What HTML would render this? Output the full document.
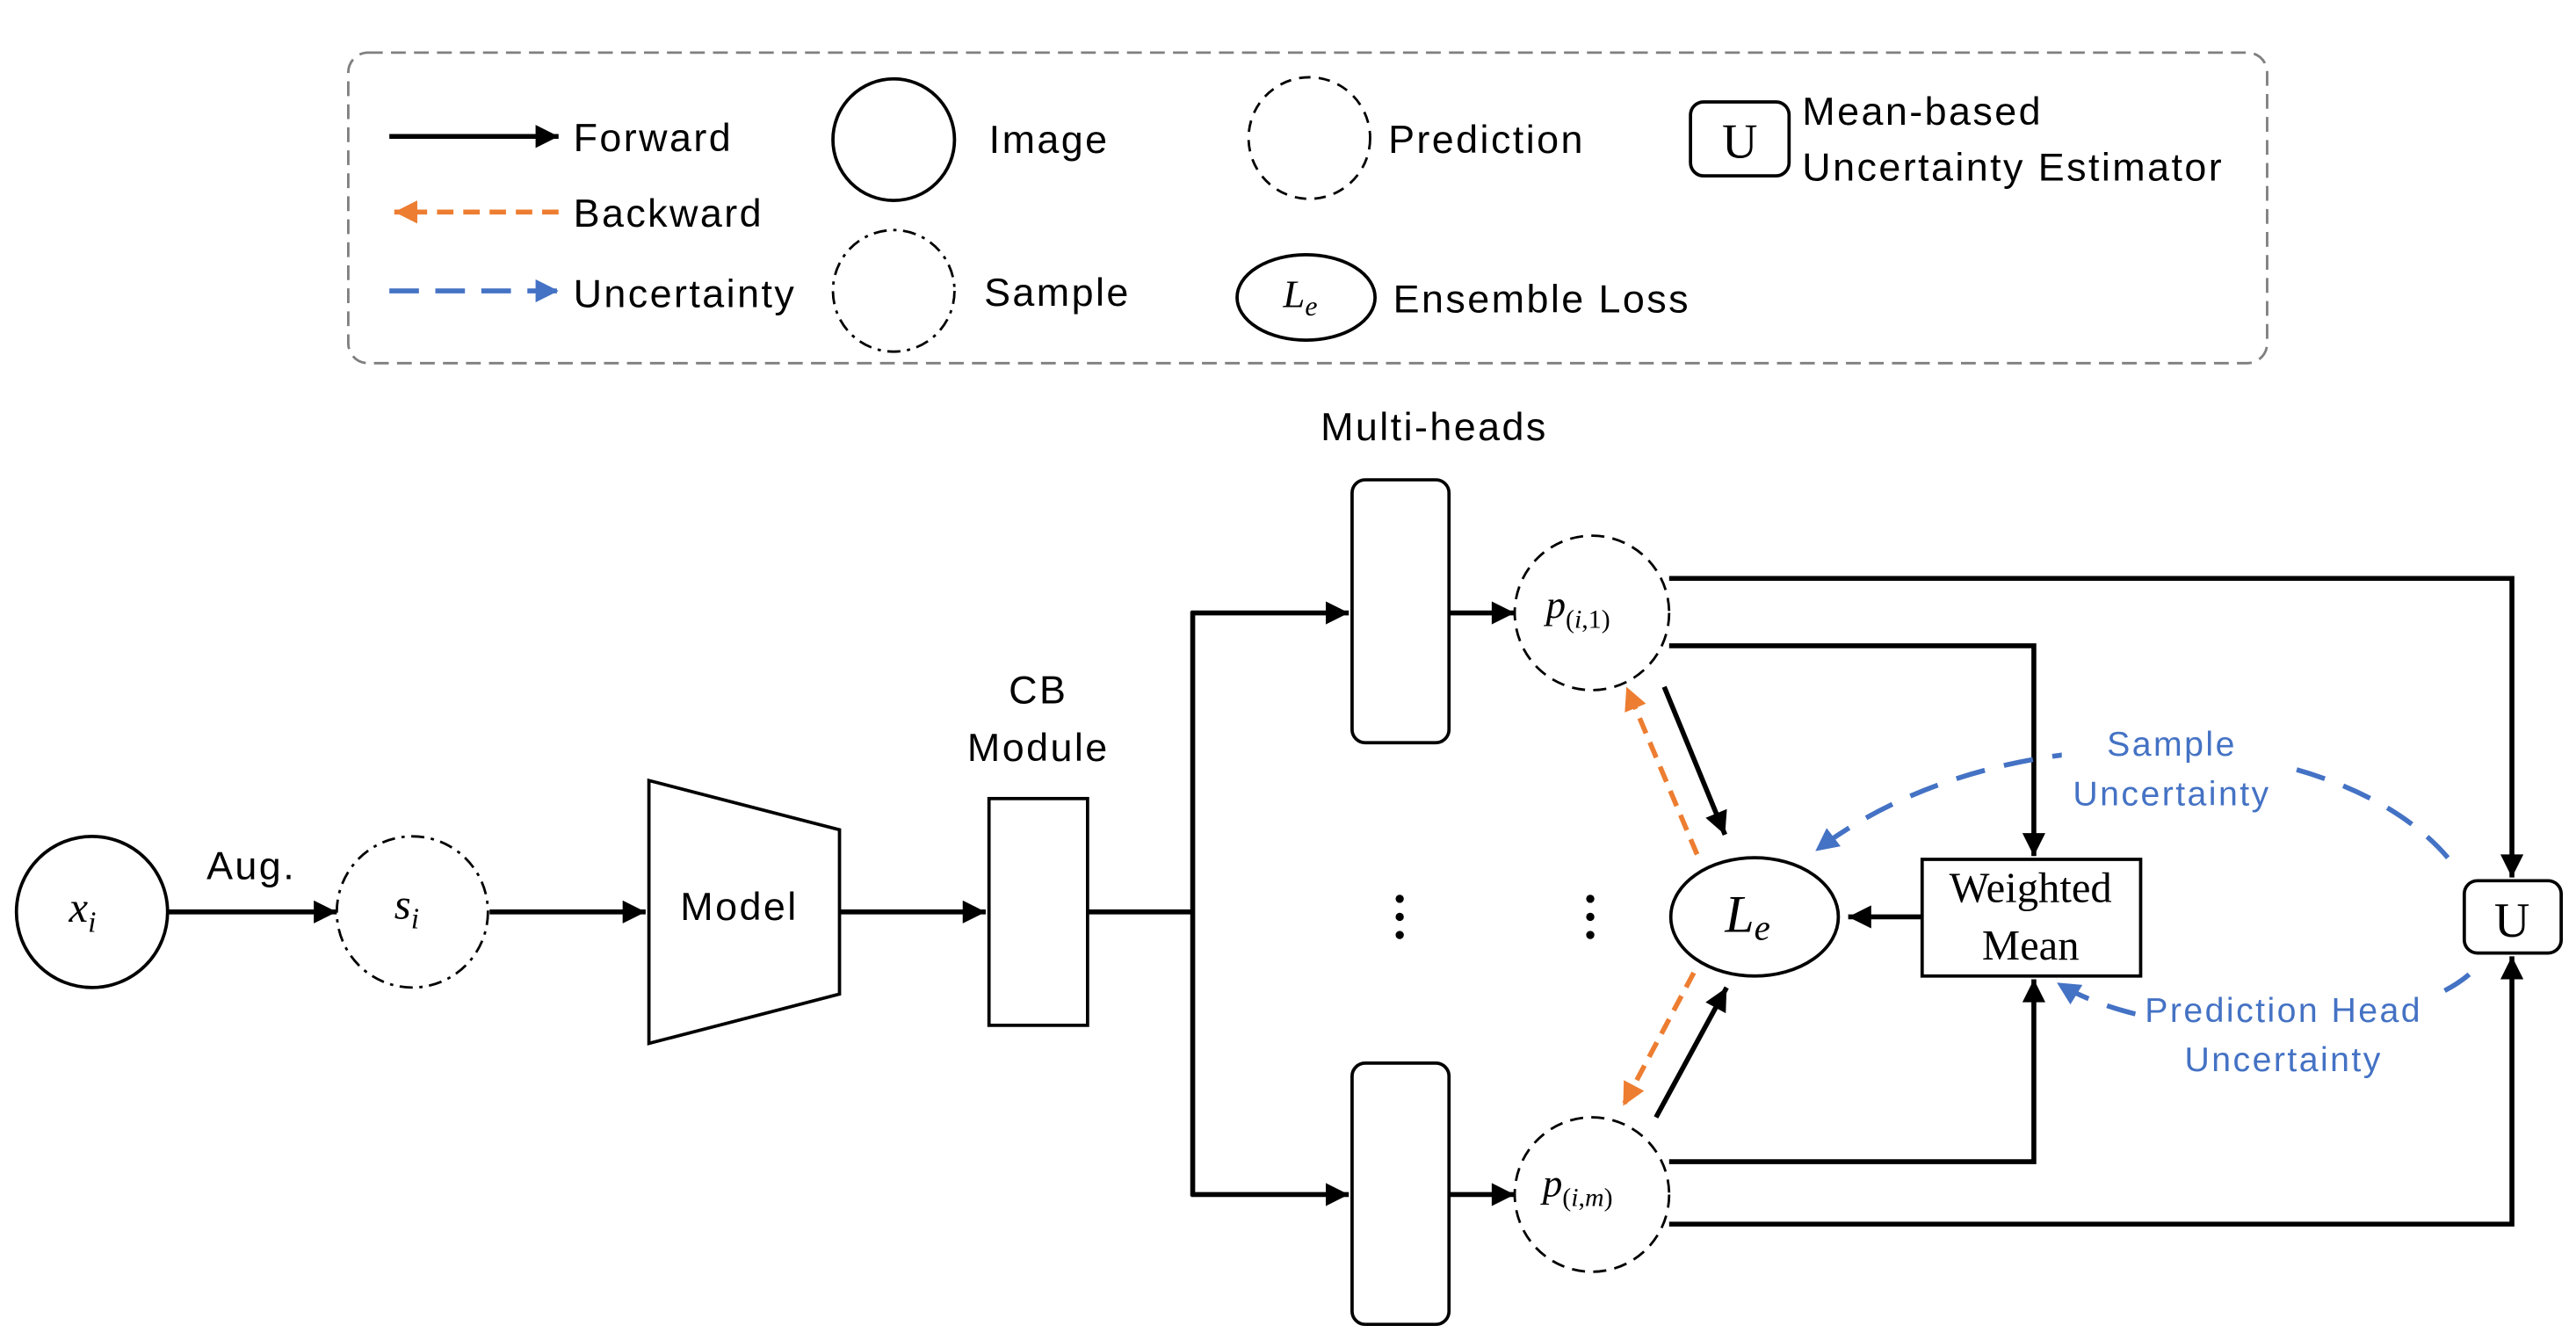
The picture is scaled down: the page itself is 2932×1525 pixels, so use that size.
<!DOCTYPE html>
<html><head><meta charset="utf-8"><style>
html,body{margin:0;padding:0;background:#fff;}
svg{display:block;}
.s{font-family:"Liberation Sans",sans-serif;font-size:24px;letter-spacing:1.3px;fill:#000;}
.b{font-family:"Liberation Sans",sans-serif;font-size:21px;letter-spacing:1.3px;fill:#4472c4;}
.m{font-family:"Liberation Serif",serif;font-style:italic;fill:#000;}
.r{font-family:"Liberation Serif",serif;fill:#000;}
</style></head><body>
<svg width="2932" height="1525" viewBox="0 0 1568 815.5" xmlns="http://www.w3.org/2000/svg">
<defs>
<marker id="A" viewBox="0 0 10 10" refX="10" refY="5" markerWidth="16" markerHeight="14" orient="auto" markerUnits="userSpaceOnUse"><path d="M0,0 L10,5 L0,10z" fill="#000"/></marker>
<marker id="O" viewBox="0 0 10 10" refX="10" refY="5" markerWidth="16" markerHeight="14" orient="auto" markerUnits="userSpaceOnUse"><path d="M0,0 L10,5 L0,10z" fill="#ed7d31"/></marker>
<marker id="B" viewBox="0 0 10 10" refX="10" refY="5" markerWidth="16" markerHeight="14" orient="auto" markerUnits="userSpaceOnUse"><path d="M0,0 L10,5 L0,10z" fill="#4472c4"/></marker>
</defs>
<rect x="212" y="32" width="1168" height="189" rx="12" fill="none" stroke="#7f7f7f" stroke-width="1.5" stroke-dasharray="9,5"/>
<line x1="237" y1="83" x2="340" y2="83" stroke="#000" stroke-width="3" marker-end="url(#A)"/>
<text class="s" x="349" y="92">Forward</text>
<line x1="340" y1="129" x2="240" y2="129" stroke="#ed7d31" stroke-width="3" stroke-dasharray="10,6" marker-end="url(#O)"/>
<text class="s" x="349" y="138">Backward</text>
<line x1="237" y1="177" x2="340" y2="177" stroke="#4472c4" stroke-width="3" stroke-dasharray="18,10" marker-end="url(#B)"/>
<text class="s" x="349" y="187">Uncertainty</text>
<circle cx="544" cy="85" r="37" fill="none" stroke="#000" stroke-width="2"/>
<text class="s" x="602" y="93">Image</text>
<circle cx="544" cy="177" r="37" fill="none" stroke="#000" stroke-width="1.5" stroke-dasharray="8,4,2,4"/>
<text class="s" x="599" y="186">Sample</text>
<circle cx="797" cy="84" r="37" fill="none" stroke="#000" stroke-width="1.5" stroke-dasharray="7,5"/>
<text class="s" x="845" y="93">Prediction</text>
<ellipse cx="795" cy="181" rx="42" ry="26" fill="none" stroke="#000" stroke-width="2"/>
<text class="m" x="781" y="187" font-size="24">L<tspan font-size="17" dy="5">e</tspan></text>
<text class="s" x="848" y="190">Ensemble Loss</text>
<rect x="1029" y="62" width="60" height="45" rx="8" fill="none" stroke="#000" stroke-width="2"/>
<text class="r" x="1059" y="96" font-size="30" text-anchor="middle">U</text>
<text class="s" x="1097" y="76">Mean-based</text>
<text class="s" x="1097" y="110">Uncertainty Estimator</text>
<circle cx="56" cy="555" r="46" fill="none" stroke="#000" stroke-width="2"/>
<text class="m" x="42" y="561" font-size="26">x<tspan font-size="18" dy="6">i</tspan></text>
<text class="s" x="153" y="535" text-anchor="middle">Aug.</text>
<line x1="102" y1="555" x2="205" y2="555" stroke="#000" stroke-width="3" marker-end="url(#A)"/>
<circle cx="251" cy="555" r="46" fill="none" stroke="#000" stroke-width="1.5" stroke-dasharray="8,4,2,4"/>
<text class="m" x="240" y="559" font-size="26">s<tspan font-size="18" dy="6">i</tspan></text>
<line x1="298" y1="555" x2="393" y2="555" stroke="#000" stroke-width="3" marker-end="url(#A)"/>
<path d="M395,475 L511,505 L511,605 L395,635z" fill="none" stroke="#000" stroke-width="2"/>
<text class="s" x="450" y="560" text-anchor="middle">Model</text>
<line x1="511" y1="555" x2="600" y2="555" stroke="#000" stroke-width="3" marker-end="url(#A)"/>
<rect x="602" y="486" width="60" height="138" fill="none" stroke="#000" stroke-width="2"/>
<text class="s" x="632" y="428" text-anchor="middle">CB</text>
<text class="s" x="632" y="463" text-anchor="middle">Module</text>
<polyline points="662,555 726,555" stroke="#000" stroke-width="3" fill="none"/>
<line x1="726" y1="372" x2="726" y2="728" stroke="#000" stroke-width="3"/>
<line x1="725" y1="373" x2="821" y2="373" stroke="#000" stroke-width="3" marker-end="url(#A)"/>
<line x1="725" y1="727" x2="821" y2="727" stroke="#000" stroke-width="3" marker-end="url(#A)"/>
<text class="s" x="873" y="268" text-anchor="middle">Multi-heads</text>
<rect x="823" y="292" width="59" height="160" rx="8" fill="none" stroke="#000" stroke-width="2"/>
<rect x="823" y="647" width="59" height="159" rx="8" fill="none" stroke="#000" stroke-width="2"/>
<line x1="882" y1="373" x2="922" y2="373" stroke="#000" stroke-width="3" marker-end="url(#A)"/>
<line x1="882" y1="727" x2="922" y2="727" stroke="#000" stroke-width="3" marker-end="url(#A)"/>
<circle cx="969" cy="373" r="47" fill="none" stroke="#000" stroke-width="1.5" stroke-dasharray="8,5"/>
<text class="m" x="941" y="376" font-size="24">p<tspan class="r" font-style="normal" font-size="16" dy="6">(<tspan font-style="italic">i</tspan>,1)</tspan></text>
<circle cx="969" cy="727" r="47" fill="none" stroke="#000" stroke-width="1.5" stroke-dasharray="8,5"/>
<text class="m" x="939" y="728" font-size="24">p<tspan class="r" font-style="normal" font-size="16" dy="6">(<tspan font-style="italic">i</tspan>,<tspan font-style="italic">m</tspan>)</tspan></text>
<g fill="#000"><circle cx="852" cy="547" r="2.5"/><circle cx="852" cy="558" r="2.5"/><circle cx="852" cy="569" r="2.5"/>
<circle cx="968" cy="547" r="2.5"/><circle cx="968" cy="558" r="2.5"/><circle cx="968" cy="569" r="2.5"/></g>
<polyline points="1016,352 1529,352 1529,534" stroke="#000" stroke-width="3" fill="none" marker-end="url(#A)"/>
<polyline points="1016,393 1238,393 1238,521" stroke="#000" stroke-width="3" fill="none" marker-end="url(#A)"/>
<polyline points="1016,707 1238,707 1238,596" stroke="#000" stroke-width="3" fill="none" marker-end="url(#A)"/>
<polyline points="1016,745 1529,745 1529,582" stroke="#000" stroke-width="3" fill="none" marker-end="url(#A)"/>
<rect x="1500" y="536" width="59" height="44" rx="8" fill="none" stroke="#000" stroke-width="2"/>
<text class="r" x="1529" y="570" font-size="30" text-anchor="middle">U</text>
<rect x="1170" y="523" width="133" height="71" fill="#fff" stroke="#000" stroke-width="2"/>
<text class="r" x="1236" y="549" font-size="26" text-anchor="middle">Weighted</text>
<text class="r" x="1236" y="584" font-size="26" text-anchor="middle">Mean</text>
<line x1="1170" y1="558" x2="1125" y2="558" stroke="#000" stroke-width="3" marker-end="url(#A)"/>
<ellipse cx="1068" cy="558" rx="51" ry="36" fill="none" stroke="#000" stroke-width="2"/>
<text class="m" x="1050" y="567" font-size="32">L<tspan font-size="22" dy="5">e</tspan></text>
<line x1="1013" y1="418" x2="1050" y2="508" stroke="#000" stroke-width="3" marker-end="url(#A)"/>
<line x1="1008" y1="680" x2="1051" y2="601" stroke="#000" stroke-width="3" marker-end="url(#A)"/>
<line x1="1033" y1="520" x2="990" y2="418" stroke="#ed7d31" stroke-width="3" stroke-dasharray="10,6" marker-end="url(#O)"/>
<line x1="1031" y1="592" x2="988" y2="673" stroke="#ed7d31" stroke-width="3" stroke-dasharray="10,6" marker-end="url(#O)"/>
<path d="M1490,522 C1420,440 1220,430 1105,518" stroke="#4472c4" stroke-width="3" fill="none" stroke-dasharray="18,12" marker-end="url(#B)"/>
<path d="M1503,593 C1460,630 1320,640 1252,598" stroke="#4472c4" stroke-width="3" fill="none" stroke-dasharray="18,12" marker-end="url(#B)"/>
<rect x="1255" y="438" width="135" height="60" fill="#fff"/>
<text class="b" x="1322" y="460" text-anchor="middle">Sample</text>
<text class="b" x="1322" y="490" text-anchor="middle">Uncertainty</text>
<rect x="1300" y="600" width="180" height="60" fill="#fff"/>
<text class="b" x="1390" y="622" text-anchor="middle">Prediction Head</text>
<text class="b" x="1390" y="652" text-anchor="middle">Uncertainty</text>
</svg>
</body></html>
